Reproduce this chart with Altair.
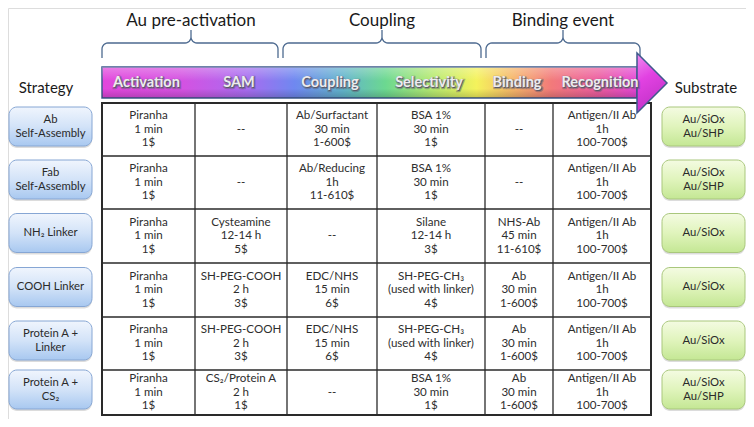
import altair as alt
import pandas as pd
import math

# ---------------- data ----------------
groups = ["Au pre-activation", "Coupling", "Binding event"]
steps = ["Activation", "SAM", "Coupling", "Selectivity", "Binding", "Recognition"]
strategies = ["Ab\nSelf-Assembly", "Fab\nSelf-Assembly", "NH\u2082 Linker",
              "COOH Linker", "Protein A +\nLinker", "Protein A +\nCS\u2082"]
substrates = ["Au/SiOx\nAu/SHP", "Au/SiOx\nAu/SHP", "Au/SiOx",
              "Au/SiOx", "Au/SiOx", "Au/SiOx\nAu/SHP"]

activation = ["Piranha\n1 min\n1$", "Piranha\n1 min\n1$", "Piranha\n1 min\n1$",
              "Piranha\n1 min\n1$", "Piranha\n1 min\n1$", "Piranha\n1 min\n1$"]
sam = ["--", "--", "Cysteamine\n12-14 h\n5$", "SH-PEG-COOH\n2 h\n3$",
       "SH-PEG-COOH\n2 h\n3$", "CS\u2082/Protein A\n2 h\n1$"]
coupling = ["Ab/Surfactant\n30 min\n1-600$", "Ab/Reducing\n1h\n11-610$", "--",
            "EDC/NHS\n15 min\n6$", "EDC/NHS\n15 min\n6$", "--"]
selectivity = ["BSA 1%\n30 min\n1$", "BSA 1%\n30 min\n1$", "Silane\n12-14 h\n3$",
               "SH-PEG-CH\u2083\n(used with linker)\n4$",
               "SH-PEG-CH\u2083\n(used with linker)\n4$", "BSA 1%\n30 min\n1$"]
binding = ["--", "--", "NHS-Ab\n45 min\n11-610$", "Ab\n30 min\n1-600$",
           "Ab\n30 min\n1-600$", "Ab\n30 min\n1-600$"]
recognition = ["Antigen/II Ab\n1h\n100-700$", "Antigen/II Ab\n1h\n100-700$",
               "Antigen/II Ab\n1h\n100-700$", "Antigen/II Ab\n1h\n100-700$",
               "Antigen/II Ab\n1h\n100-700$", "Antigen/II Ab\n1h\n100-700$"]
columns = [activation, sam, coupling, selectivity, binding, recognition]

# ---------------- layout (page pixel units) ----------------
W, H = 738, 411
X0, Y0 = 8, 8
COL_EDGES = [102, 195, 287, 377, 485, 553, 651]
ROW_EDGES = [103, 156, 209, 263, 317, 370, 415]
BRACES = [(102, 278, 191), (283, 481, 382), (486, 640, 563)]
ARROW = dict(x0=102, x1=637, tip=667, y0=67, y1=98, hy0=53, hy1=113)
FONT = "Lato"
CELL_LH = 13.5
BOX_LH = 14

xs = alt.Scale(domain=[X0, X0 + W], nice=False, zero=False)
ys = alt.Scale(domain=[Y0, Y0 + H], nice=False, zero=False, reverse=True)


def X(f):
    return alt.X(f, type="quantitative", scale=xs, axis=None)


def Y(f):
    return alt.Y(f, type="quantitative", scale=ys, axis=None)


def first_line_y(cy, txt, lh):
    n = txt.count("\n") + 1
    return cy - (n - 1) * lh / 2


layers = []

# header texts + braces
hdr = pd.DataFrame({"t": groups, "x": [b[2] for b in BRACES], "y": [21] * 3})
layers.append(alt.Chart(hdr).mark_text(font=FONT, fontSize=17, color="#1a1a1a")
              .encode(x=X("x"), y=Y("y"), text="t:N"))

brace_pts = []
r, yh, yend, ytip = 6, 43, 58, 30
for gi, (a, b, m) in enumerate(BRACES):
    pts = [(a, yend), (a, yh + r)]
    for k in range(1, 7):
        ang = math.pi - k * (math.pi / 2) / 6
        pts.append((a + r + r * math.cos(ang), yh + r - r * math.sin(ang)))
    pts.append((m - r, yh))
    for k in range(1, 7):
        ang = -math.pi / 2 + k * (math.pi / 2) / 6
        pts.append((m - r + r * math.cos(ang), yh - r - r * math.sin(ang)))
    pts.append((m, ytip))
    pts.append((m, yh - r))
    for k in range(1, 7):
        ang = math.pi - k * (math.pi / 2) / 6
        pts.append((m + r + r * math.cos(ang), yh - r + r * math.sin(ang)))
    pts.append((b - r, yh))
    for k in range(1, 7):
        ang = math.pi / 2 - k * (math.pi / 2) / 6
        pts.append((b - r + r * math.cos(ang), yh + r - r * math.sin(ang)))
    pts.append((b, yend))
    for i, (px, py) in enumerate(pts):
        brace_pts.append({"g": groups[gi], "x": px, "y": py, "o": i})
layers.append(alt.Chart(pd.DataFrame(brace_pts)).mark_line(color="#4d6a90", strokeWidth=1.3)
              .encode(x=X("x"), y=Y("y"), detail="g:N", order="o:Q"))

# side labels
side = pd.DataFrame({"t": ["Strategy", "Substrate"], "x": [46, 706], "y": [88, 88]})
layers.append(alt.Chart(side).mark_text(font=FONT, fontSize=15, color="#1a1a1a")
              .encode(x=X("x"), y=Y("y"), text="t:N"))

# table background + cell text
tbl = pd.DataFrame({"x": [COL_EDGES[0]], "x2": [COL_EDGES[-1]],
                    "y": [ROW_EDGES[0]], "y2": [ROW_EDGES[-1]]})
layers.append(alt.Chart(tbl).mark_rect(fill="white")
              .encode(x=X("x"), x2="x2:Q", y=Y("y"), y2="y2:Q"))

cells = []
for ci, col in enumerate(columns):
    for ri, txt in enumerate(col):
        cy = (ROW_EDGES[ri] + ROW_EDGES[ri + 1]) / 2
        cells.append({"x": (COL_EDGES[ci] + COL_EDGES[ci + 1]) / 2,
                      "y": first_line_y(cy, txt, CELL_LH), "t": txt})
layers.append(alt.Chart(pd.DataFrame(cells))
              .mark_text(font=FONT, fontSize=11.6, color="#2e2e2e", lineBreak="\n",
                         lineHeight=CELL_LH, baseline="middle")
              .encode(x=X("x"), y=Y("y"), text="t:N"))

vr = pd.DataFrame({"x": COL_EDGES[1:-1], "y": [ROW_EDGES[0]] * 5, "y2": [ROW_EDGES[-1]] * 5})
layers.append(alt.Chart(vr).mark_rule(color="#2a2a2a", strokeWidth=1.3)
              .encode(x=X("x"), y=Y("y"), y2="y2:Q"))
hr = pd.DataFrame({"y": ROW_EDGES[1:-1], "x": [COL_EDGES[0]] * 5, "x2": [COL_EDGES[-1]] * 5})
layers.append(alt.Chart(hr).mark_rule(color="#2a2a2a", strokeWidth=1.3)
              .encode(y=Y("y"), x=X("x"), x2="x2:Q"))
layers.append(alt.Chart(tbl).mark_rect(fill=None, stroke="#2a2a2a", strokeWidth=2)
              .encode(x=X("x"), x2="x2:Q", y=Y("y"), y2="y2:Q"))

# arrow body
body = pd.DataFrame({"x": [ARROW["x0"]], "x2": [ARROW["x1"]],
                     "y": [ARROW["y0"]], "y2": [ARROW["y1"]]})
grad = alt.Gradient(gradient="linear", x1=0, x2=1, y1=0, y2=0, stops=[
    alt.GradientStop(color="#e246dc", offset=0.0),
    alt.GradientStop(color="#d452e2", offset=0.15),
    alt.GradientStop(color="#a86cf0", offset=0.27),
    alt.GradientStop(color="#6f88f0", offset=0.36),
    alt.GradientStop(color="#62b4cc", offset=0.45),
    alt.GradientStop(color="#6cd890", offset=0.53),
    alt.GradientStop(color="#b8ea70", offset=0.62),
    alt.GradientStop(color="#f4f25c", offset=0.70),
    alt.GradientStop(color="#f6b46a", offset=0.77),
    alt.GradientStop(color="#f27a7a", offset=0.84),
    alt.GradientStop(color="#ec5ca0", offset=0.93),
    alt.GradientStop(color="#e446d6", offset=1.0)])
layers.append(alt.Chart(body).mark_rect(fill=grad, stroke="#3e5a8c", strokeWidth=1.5)
              .encode(x=X("x"), x2="x2:Q", y=Y("y"), y2="y2:Q"))
shade = alt.Gradient(gradient="linear", x1=0, x2=0, y1=0, y2=1, stops=[
    alt.GradientStop(color="rgba(255,255,255,0.30)", offset=0.0),
    alt.GradientStop(color="rgba(255,255,255,0.0)", offset=0.45),
    alt.GradientStop(color="rgba(0,0,0,0.0)", offset=0.7),
    alt.GradientStop(color="rgba(0,0,0,0.18)", offset=1.0)])
layers.append(alt.Chart(body).mark_rect(fill=shade)
              .encode(x=X("x"), x2="x2:Q", y=Y("y"), y2="y2:Q"))

mid = (ARROW["y0"] + ARROW["y1"]) / 2 + 0.5
head = pd.DataFrame({"x": [ARROW["x1"], ARROW["tip"]],
                     "y": [ARROW["hy0"], mid], "y2": [ARROW["hy1"], mid]})
hgrad = alt.Gradient(gradient="linear", x1=0, x2=0.3, y1=0, y2=1, stops=[
    alt.GradientStop(color="#f08ef0", offset=0.0),
    alt.GradientStop(color="#e242e2", offset=0.45),
    alt.GradientStop(color="#c232c8", offset=1.0)])
layers.append(alt.Chart(head).mark_area(fill=hgrad, stroke="#3e5a8c", strokeWidth=1.5,
                                        interpolate="linear", orient="vertical")
              .encode(x=X("x"), y=Y("y"), y2="y2:Q"))

# arrow labels
lab = pd.DataFrame({"t": steps,
                    "x": [(COL_EDGES[i] + COL_EDGES[i + 1]) / 2 - 2 for i in range(6)],
                    "y": [83] * 6})
layers.append(alt.Chart(lab).mark_text(font=FONT, fontSize=14.5, fontWeight="bold",
                                       fill="#5a5a6a", stroke="#5a5a6a", strokeWidth=2.5,
                                       strokeOpacity=0.45, dx=0.8, dy=0.8)
              .encode(x=X("x"), y=Y("y"), text="t:N"))
layers.append(alt.Chart(lab).mark_text(font=FONT, fontSize=14.5, fontWeight="bold", fill="#ececf0")
              .encode(x=X("x"), y=Y("y"), text="t:N"))

# strategy / substrate boxes
BOX_H = 39
rows = []
for ri in range(6):
    cy = (ROW_EDGES[ri] + ROW_EDGES[ri + 1]) / 2 - 3
    rows.append({"y": cy - BOX_H / 2, "y2": cy + BOX_H / 2,
                 "ys": cy - BOX_H / 2 + 2, "ys2": cy + BOX_H / 2 + 2,
                 "ty_s": first_line_y(cy, strategies[ri], BOX_LH),
                 "ty_g": first_line_y(cy, substrates[ri], BOX_LH),
                 "s": strategies[ri], "sub": substrates[ri]})
bdf = pd.DataFrame(rows)
bdf["sx"], bdf["sx2"], bdf["scx"] = 9, 92, 50.5
bdf["gx"], bdf["gx2"], bdf["gcx"] = 662, 745, 703.5

blue = alt.Gradient(gradient="linear", x1=0, x2=0, y1=0, y2=1, stops=[
    alt.GradientStop(color="#f0f5fd", offset=0.0),
    alt.GradientStop(color="#d3e3f8", offset=0.5),
    alt.GradientStop(color="#a8c8f0", offset=1.0)])
green = alt.Gradient(gradient="linear", x1=0, x2=0, y1=0, y2=1, stops=[
    alt.GradientStop(color="#f4fbe2", offset=0.0),
    alt.GradientStop(color="#e0f4bc", offset=0.5),
    alt.GradientStop(color="#c4e794", offset=1.0)])

for xa, xb, xc, ty, fillg, strk, tf in [("sx", "sx2", "scx", "ty_s", blue, "#86a6d4", "s"),
                                        ("gx", "gx2", "gcx", "ty_g", green, "#a9c77c", "sub")]:
    layers.append(alt.Chart(bdf).mark_rect(cornerRadius=8, fill="#9a9a9a", opacity=0.35)
                  .encode(x=X(xa), x2=f"{xb}:Q", y=Y("ys"), y2="ys2:Q"))
    layers.append(alt.Chart(bdf).mark_rect(cornerRadius=8, fill=fillg, stroke=strk, strokeWidth=1)
                  .encode(x=X(xa), x2=f"{xb}:Q", y=Y("y"), y2="y2:Q"))
    layers.append(alt.Chart(bdf).mark_text(font=FONT, fontSize=11.3, color="#2a2a2a",
                                           lineBreak="\n", lineHeight=BOX_LH, baseline="middle")
                  .encode(x=X(xc), y=Y(ty), text=f"{tf}:N"))

chart = (alt.layer(*layers)
         .properties(width=W, height=H, padding=0, autosize=alt.AutoSizeParams(type="none"))
         .configure_view(stroke=None)
         .configure(background="white"))

chart.save("out.html", embed_options={"renderer": "svg", "actions": False})
